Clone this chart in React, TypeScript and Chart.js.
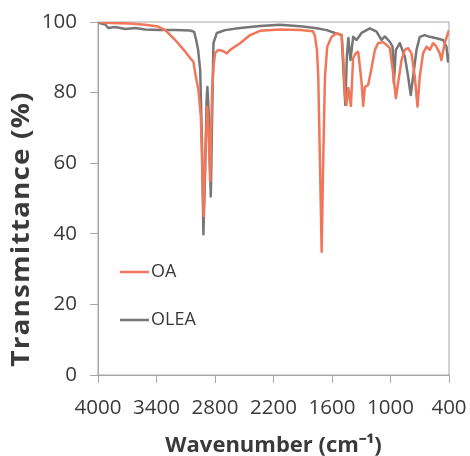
import React, { useEffect, useRef } from 'react';
import { Chart, registerables } from 'chart.js';

Chart.register(...registerables);

// ---------- data ----------
const X_TICKS = [4000, 3400, 2800, 2200, 1600, 1000, 400];
const Y_TICKS = [0, 20, 40, 60, 80, 100];
const SERIES_NAMES = ['OA', 'OLEA'];
const X_TITLE = 'Wavenumber (cm⁻¹)';
const Y_TITLE = 'Transmittance (%)';

const OA_WAVENUMBER = [
  4000, 3874, 3669, 3516, 3383, 3311, 3208, 3105, 3055, 3021, 3004, 2970, 2945, 2927, 2917, 2900,
  2880, 2865, 2850, 2830, 2814, 2799, 2765, 2717, 2679, 2645, 2543, 2440, 2338, 2133, 1928, 1795,
  1775, 1754, 1741, 1724, 1706, 1690, 1672, 1649, 1604, 1553, 1501, 1483, 1467, 1452, 1432, 1406,
  1383, 1355, 1331, 1297, 1280, 1263, 1229, 1194, 1160, 1127, 1075, 1041, 1007, 973, 945, 922,
  887, 853, 819, 785, 751, 723, 700, 666, 631, 597, 563, 529, 495, 478, 444, 410, 400,
];
const OA_TRANSMITTANCE = [
  100, 99.7, 99.6, 99.2, 98.7, 97.7, 94.9, 91.6, 89.8, 88.7, 85.6, 80.7, 73.1, 55, 45, 62,
  76, 68, 55, 80.7, 87.8, 91.2, 92.1, 91.8, 91.1, 92.1, 94, 96.3, 97.5, 97.9, 97.7, 97.4,
  96, 92, 84.5, 60.9, 34.9, 60.9, 84.5, 93, 95.8, 96.8, 96.3, 89.2, 79.3, 76.5, 81.3, 76.2,
  89.8, 91.2, 91.5, 83, 76.2, 81.6, 82.2, 87, 92.1, 94, 94.3, 93.5, 92.6, 85.6, 78.4, 82.7,
  89.2, 92.1, 92.6, 91.1, 84.5, 76, 84.5, 91.1, 93, 92.1, 94, 93, 91.1, 89.2, 94, 96.9, 97.7,
];

const OLEA_WAVENUMBER = [
  4000, 3925, 3895, 3823, 3720, 3618, 3516, 3362, 3208, 3055, 3014, 2993, 2973, 2952, 2932, 2919,
  2901, 2886, 2878, 2866, 2843, 2830, 2816, 2781, 2696, 2543, 2338, 2133, 1898, 1757, 1655, 1570,
  1501, 1478, 1463, 1447, 1432, 1411, 1383, 1348, 1297, 1212, 1143, 1092, 1058, 1007, 979, 966,
  945, 904, 853, 819, 792, 768, 733, 700, 648, 597, 529, 461, 426, 410, 400,
];
const OLEA_TRANSMITTANCE = [
  99.8, 99.3, 98.3, 98.6, 98.0, 98.3, 97.9, 97.7, 97.7, 97.6, 97.2, 94.9, 92.1, 86.4, 63.7, 39.9,
  58, 77.9, 81.6, 75, 50.6, 72.2, 94, 96.9, 97.7, 98.3, 98.9, 99.2, 98.7, 98.2, 97.7, 96.9,
  96.3, 83.6, 76.5, 90.6, 95.5, 89.2, 95.8, 94.9, 96.9, 98.2, 97.3, 94.9, 95.9, 94.4, 93, 82.7,
  92.1, 94, 90.2, 84.5, 79.3, 84.5, 92.1, 95.8, 96.3, 95.8, 95.4, 94.9, 93, 88.8, 91,
];

// ---------- styles ----------
const FONT = '"Open Sans", "Liberation Sans", sans-serif';
const AXIS_COLOR = '#A6A6A6';
const TEXT_COLOR = '#3A3A3A';
const SERIES_COLORS = ['#F0775A', '#767676'];

const toPoints = (xs: number[], ys: number[]) => xs.map((x, i) => ({ x, y: ys[i] }));

export default function App() {
  const ref = useRef<HTMLCanvasElement | null>(null);

  useEffect(() => {
    document.body.style.margin = '0';
    const canvas = ref.current;
    if (!canvas) return;

    const boxPlugin = {
      id: 'plotBox',
      beforeDatasetsDraw(chart: any) {
        const { ctx, chartArea: a } = chart;
        ctx.save();
        ctx.strokeStyle = AXIS_COLOR;
        ctx.lineWidth = 1;
        ctx.strokeRect(a.left, a.top, a.right - a.left, a.bottom - a.top);
        ctx.restore();
      },
    };

    const titlesPlugin = {
      id: 'axisTitles',
      afterDraw(chart: any) {
        const { ctx, chartArea: a } = chart;
        ctx.save();
        ctx.fillStyle = TEXT_COLOR;
        ctx.textAlign = 'center';
        ctx.textBaseline = 'middle';
        ctx.font = `bold 22px ${FONT}`;
        ctx.fillText(X_TITLE, (a.left + a.right) / 2, 446);
        ctx.translate(22, 229);
        ctx.rotate(-Math.PI / 2);
        ctx.scale(1.12, 1);
        ctx.font = `bold 25px ${FONT}`;
        (ctx as any).letterSpacing = '1px';
        ctx.fillText(Y_TITLE, 0, 0);
        ctx.restore();
      },
    };

    const legendPlugin = {
      id: 'insideLegend',
      afterDatasetsDraw(chart: any) {
        const { ctx } = chart;
        const rows = [272, 320];
        ctx.save();
        chart.data.datasets.forEach((ds: any, i: number) => {
          const y = rows[i];
          ctx.strokeStyle = ds.borderColor;
          ctx.lineWidth = 2.5;
          ctx.beginPath();
          ctx.moveTo(120, y);
          ctx.lineTo(149, y);
          ctx.stroke();
          ctx.font = `18px ${FONT}`;
          ctx.fillStyle = TEXT_COLOR;
          ctx.textAlign = 'left';
          ctx.textBaseline = 'middle';
          ctx.fillText(ds.label, 151, y);
        });
        ctx.restore();
      },
    };

    const zeroPadding = (axis: any) => {
      axis.paddingLeft = 0;
      axis.paddingRight = 0;
      axis.paddingTop = 0;
      axis.paddingBottom = 0;
    };

    const chart = new Chart(canvas, {
      type: 'line',
      data: {
        datasets: [
          {
            label: SERIES_NAMES[0],
            data: toPoints(OA_WAVENUMBER, OA_TRANSMITTANCE),
            borderColor: SERIES_COLORS[0],
            borderWidth: 2.5,
            pointRadius: 0,
            borderJoinStyle: 'round',
            tension: 0,
          },
          {
            label: SERIES_NAMES[1],
            data: toPoints(OLEA_WAVENUMBER, OLEA_TRANSMITTANCE),
            borderColor: SERIES_COLORS[1],
            borderWidth: 2.5,
            pointRadius: 0,
            borderJoinStyle: 'round',
            tension: 0,
          },
        ],
      },
      options: {
        responsive: false,
        animation: false,
        parsing: false,
        normalized: true,
        layout: { padding: { left: 0, right: 21, top: 22, bottom: 0 } },
        plugins: {
          legend: { display: false },
          tooltip: { enabled: false },
          title: { display: false },
        },
        scales: {
          x: {
            type: 'linear',
            reverse: true,
            min: 400,
            max: 4000,
            afterBuildTicks: (axis: any) => {
              axis.ticks = X_TICKS.map((v) => ({ value: v }));
            },
            afterFit: (axis: any) => {
              axis.height = 81;
              zeroPadding(axis);
            },
            ticks: {
              callback: (v: any) => String(v),
              font: { family: FONT, size: 20.5 },
              color: TEXT_COLOR,
              padding: 13,
              maxRotation: 0,
              autoSkip: false,
            },
            grid: {
              display: true,
              drawOnChartArea: false,
              drawTicks: true,
              tickLength: 8,
              color: AXIS_COLOR,
            },
            border: { display: true, color: AXIS_COLOR },
            title: { display: false },
          },
          y: {
            type: 'linear',
            min: 0,
            max: 100,
            afterBuildTicks: (axis: any) => {
              axis.ticks = Y_TICKS.map((v) => ({ value: v }));
            },
            afterFit: (axis: any) => {
              axis.width = 98;
              zeroPadding(axis);
            },
            ticks: {
              callback: (v: any) => String(v),
              font: { family: FONT, size: 20.5 },
              color: TEXT_COLOR,
              padding: 13,
              crossAlign: 'near',
            },
            grid: {
              display: true,
              drawOnChartArea: false,
              drawTicks: true,
              tickLength: 8,
              color: AXIS_COLOR,
            },
            border: { display: true, color: AXIS_COLOR },
            title: { display: false },
          },
        },
      },
      plugins: [boxPlugin, titlesPlugin, legendPlugin],
    } as any);

    return () => chart.destroy();
  }, []);

  return (
    <div style={{ position: 'absolute', left: 0, top: 0, width: 470, height: 456 }}>
      <canvas ref={ref} width={470} height={456} style={{ display: 'block' }} />
    </div>
  );
}
